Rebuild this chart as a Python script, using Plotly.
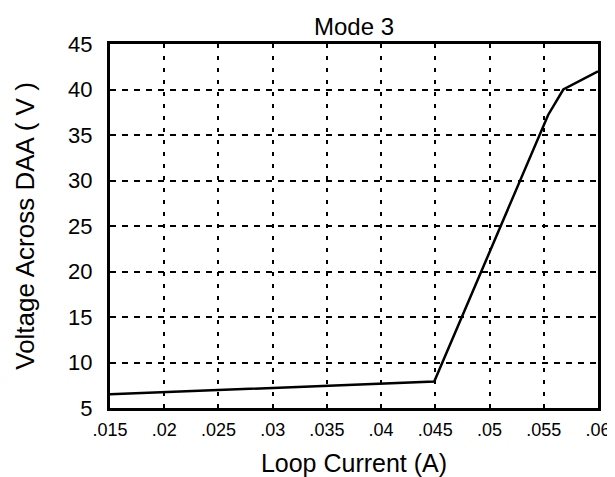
import plotly.graph_objects as go

current = [0.015, 0.0449, 0.0554, 0.0568, 0.060]
voltage = [6.5, 7.9, 37.2, 40.0, 42.0]

x_ticks = [0.015, 0.02, 0.025, 0.03, 0.035, 0.04, 0.045, 0.05, 0.055, 0.06]
x_tick_text = [".015", ".02", ".025", ".03", ".035", ".04", ".045", ".05", ".055", ".06"]
y_ticks = [5, 10, 15, 20, 25, 30, 35, 40, 45]

font_family = "Liberation Sans, Arial, sans-serif"

fig = go.Figure()
fig.add_trace(go.Scatter(x=current, y=voltage, mode="lines",
                         line=dict(color="black", width=2.5), showlegend=False))

fig.update_layout(
    width=615, height=477,
    margin=dict(l=102, r=15, t=36, b=75),
    paper_bgcolor="white", plot_bgcolor="white",
    font=dict(family=font_family, color="black", size=18),
    title=dict(text="Mode 3", xref="paper", x=0.5, xanchor="center",
               yref="container", y=0.962, yanchor="middle",
               font=dict(size=24, family=font_family, color="black")),
    xaxis=dict(
        range=[0.015, 0.06], tickvals=x_ticks, ticktext=x_tick_text,
        showgrid=True, gridcolor="black", gridwidth=2, griddash="4px,8px",
        showline=True, linecolor="black", linewidth=3, mirror=True,
        ticks="", tickfont=dict(size=18), zeroline=False, ticklabelstandoff=3,
        title=dict(text="Loop Current (A)", font=dict(size=25), standoff=16),
    ),
    yaxis=dict(
        range=[5, 45], tickvals=y_ticks,
        showgrid=True, gridcolor="black", gridwidth=2, griddash="6px,6px",
        showline=True, linecolor="black", linewidth=3, mirror=True,
        ticks="", tickfont=dict(size=22), zeroline=False, ticklabelstandoff=10,
        title=dict(text="Voltage Across DAA ( V )", font=dict(size=26), standoff=27),
    ),
)

fig.write_html("out.html")
